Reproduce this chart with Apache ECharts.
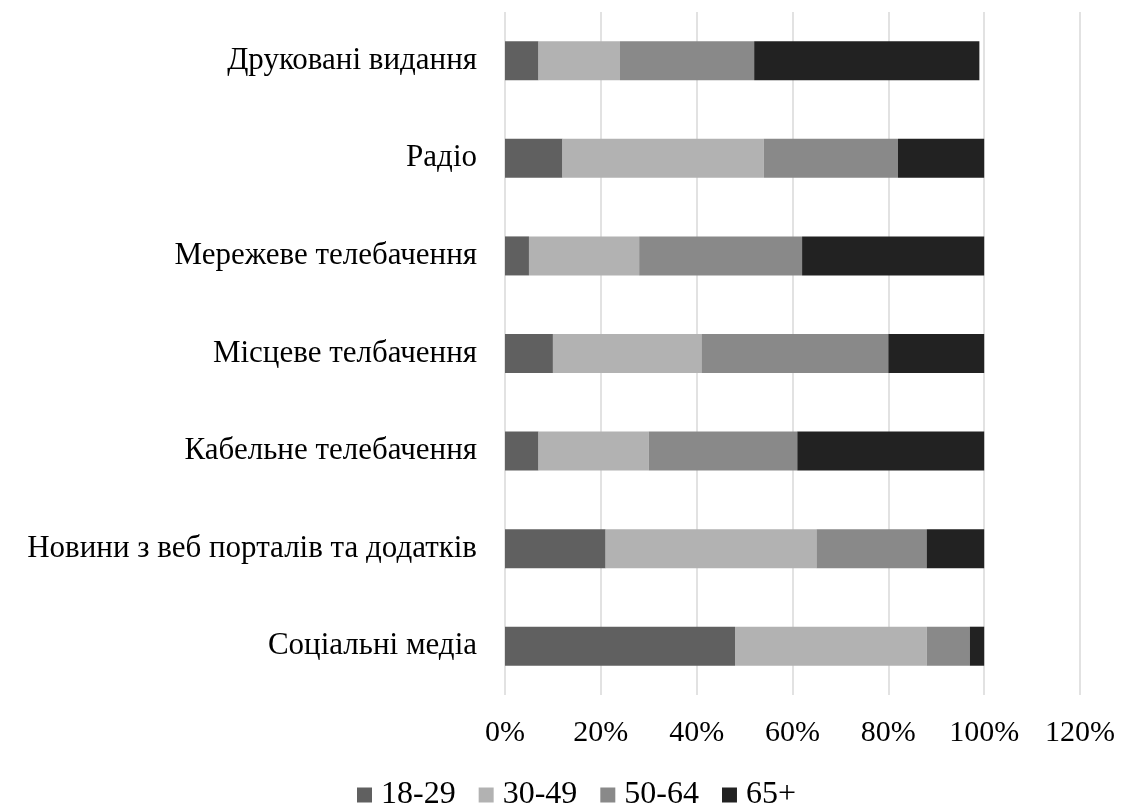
<!DOCTYPE html>
<html>
<head>
<meta charset="utf-8">
<script src="https://cdn.jsdelivr.net/npm/echarts@6/dist/echarts.min.js"></script>
<style>
  html, body { margin: 0; padding: 0; background: #ffffff; }
  #chart { width: 1130px; height: 805px; }
</style>
</head>
<body>
<div id="chart"></div>
<script>
// Media sources (bottom to top on the category axis)
const categories = [
  'Соціальні медіа',
  'Новини з веб порталів та додатків',
  'Кабельне телебачення',
  'Місцеве телбачення',
  'Мережеве телебачення',
  'Радіо',
  'Друковані видання'
];

// Share of each age group per source, percent
const age18_29 = [48, 21, 7, 10, 5, 12, 7];
const age30_49 = [40, 44, 23, 31, 23, 42, 17];
const age50_64 = [9, 23, 31, 39, 34, 28, 28];
const age65plus = [3, 12, 39, 20, 38, 18, 47];

const seriesNames = ['18-29', '30-49', '50-64', '65+'];
const seriesColors = ['#606060', '#b2b2b2', '#898989', '#222222'];
const seriesData = [age18_29, age30_49, age50_64, age65plus];

const font = '"Liberation Serif", "Times New Roman", serif';

const chart = echarts.init(document.getElementById('chart'), null, { renderer: 'canvas' });

chart.setOption({
  animation: false,
  backgroundColor: '#ffffff',
  grid: { left: 505, right: 50, top: 12, bottom: 110, containLabel: false },
  xAxis: {
    type: 'value',
    min: 0,
    max: 120,
    interval: 20,
    axisLine: { show: false },
    axisTick: { show: false },
    splitLine: { show: true, lineStyle: { color: '#d9d9d9', width: 1.5 } },
    axisLabel: {
      formatter: '{value}%',
      fontFamily: font,
      fontSize: 30,
      color: '#000000',
      margin: 23
    }
  },
  yAxis: {
    type: 'category',
    data: categories,
    axisLine: { show: false },
    axisTick: { show: false },
    splitLine: { show: false },
    axisLabel: {
      fontFamily: font,
      fontSize: 31,
      color: '#000000',
      margin: 28
    }
  },
  legend: {
    top: 774,
    left: 352,
    itemWidth: 15,
    itemHeight: 15,
    itemGap: 23,
    icon: 'rect',
    textStyle: { fontFamily: font, fontSize: 32, color: '#000000', padding: [0, 0, 0, 4] },
    data: seriesNames
  },
  series: seriesNames.map((name, i) => ({
    name: name,
    type: 'bar',
    stack: 'total',
    data: seriesData[i],
    barWidth: '40%',
    itemStyle: { color: seriesColors[i] }
  }))
});
</script>
</body>
</html>
